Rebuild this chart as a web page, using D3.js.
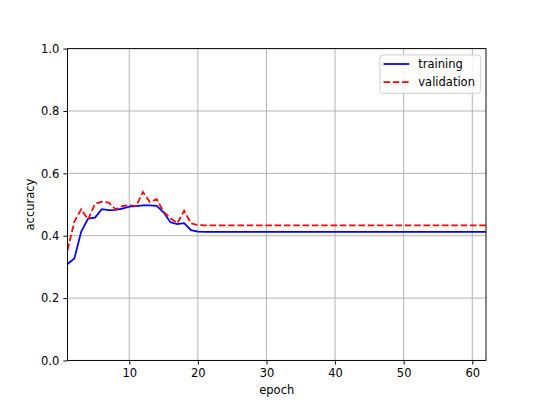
<!DOCTYPE html>
<html><head><meta charset="utf-8">
<script src="https://cdn.jsdelivr.net/npm/d3@7"></script>
<style>body{margin:0;background:#fff}svg{display:block}text{font-family:"DejaVu Sans",sans-serif}</style>
</head><body><svg id="c" width="540" height="405"></svg>
<script>
const epochs = d3.range(1, 63);
const trainHead = [0.309,0.327,0.413,0.455,0.458,0.485,0.482,0.483,0.487,0.493,0.495,0.497,0.497,0.496,0.475,0.443,0.437,0.440,0.418,0.413];
const validHead = [0.354,0.445,0.485,0.452,0.502,0.509,0.506,0.485,0.495,0.498,0.495,0.540,0.508,0.517,0.477,0.456,0.440,0.480,0.440,0.434];
const trainTail = 0.412, validTail = 0.433;
const training = epochs.map((e,i)=> i<trainHead.length ? trainHead[i] : trainTail);
const validation = epochs.map((e,i)=> i<validHead.length ? validHead[i] : validTail);
const xTicks = [10,20,30,40,50,60];
const yTicks = [0,0.2,0.4,0.6,0.8,1.0];

const FS = 11.5, LW = 1.75, DASH = "6.5,2.8";
const svg = d3.select("#c");
const L=67.5,R=486,T=48.6,B=360.45;
const x = d3.scaleLinear().domain([1,62]).range([L,R]);
const y = d3.scaleLinear().domain([0,1]).range([B,T]);

// grid
const g = svg.append("g");
g.selectAll(".gx").data(xTicks).enter().append("line")
 .attr("x1",d=>x(d)).attr("x2",d=>x(d)).attr("y1",T).attr("y2",B)
 .attr("stroke","#b0b0b0").attr("stroke-width",0.95);
g.selectAll(".gy").data(yTicks).enter().append("line")
 .attr("y1",d=>y(d)).attr("y2",d=>y(d)).attr("x1",L).attr("x2",R)
 .attr("stroke","#b0b0b0").attr("stroke-width",0.95);

const line = d3.line().x((d,i)=>x(epochs[i])).y(d=>y(d));
svg.append("clipPath").attr("id","cp").append("rect").attr("x",L).attr("y",T).attr("width",R-L).attr("height",B-T);
svg.append("path").datum(training).attr("d",line).attr("fill","none").attr("stroke","#0000ff").attr("stroke-width",LW).attr("clip-path","url(#cp)");
svg.append("path").datum(validation).attr("d",line).attr("fill","none").attr("stroke","#ff0000").attr("stroke-width",LW).attr("stroke-dasharray",DASH).attr("clip-path","url(#cp)");

// axes
const xa = svg.append("g").attr("transform",`translate(0,${B})`)
 .call(d3.axisBottom(x).tickValues(xTicks).tickFormat(d3.format("d")).tickSize(4.1).tickPadding(4.1));
const ya = svg.append("g").attr("transform",`translate(${L},0)`)
 .call(d3.axisLeft(y).tickValues(yTicks).tickFormat(d3.format(".1f")).tickSize(4.1).tickPadding(4.1));
[xa,ya].forEach(a=>{a.select(".domain").remove();a.selectAll("line").attr("stroke","#000").attr("stroke-width",0.95);a.selectAll("text").attr("font-size",FS).attr("fill","#000").attr("font-family","DejaVu Sans");});
svg.append("rect").attr("x",L).attr("y",T).attr("width",R-L).attr("height",B-T).attr("fill","none").attr("stroke","#000").attr("stroke-width",0.95);

svg.append("text").attr("x",(L+R)/2).attr("y",394).attr("text-anchor","middle").attr("font-size",FS).text("epoch");
svg.append("text").attr("transform",`translate(34,${(T+B)/2}) rotate(-90)`).attr("text-anchor","middle").attr("font-size",FS).text("accuracy");

// legend
const lg = svg.append("g");
lg.append("rect").attr("x",380).attr("y",55).attr("width",100.7).attr("height",38.3).attr("rx",3)
 .attr("fill","#fff").attr("fill-opacity",0.8).attr("stroke","#cccccc").attr("stroke-width",0.95);
const items=[{n:"training",c:"#0000ff",d:null},{n:"validation",c:"#ff0000",d:DASH}];
items.forEach((it,i)=>{
  const yy=64+i*18;
  lg.append("line").attr("x1",383.5).attr("x2",409.3).attr("y1",yy).attr("y2",yy).attr("stroke",it.c).attr("stroke-width",LW).attr("stroke-dasharray",it.d);
  lg.append("text").attr("x",418.3).attr("y",yy+4.2).attr("font-size",FS).text(it.n);
});
</script></body></html>
